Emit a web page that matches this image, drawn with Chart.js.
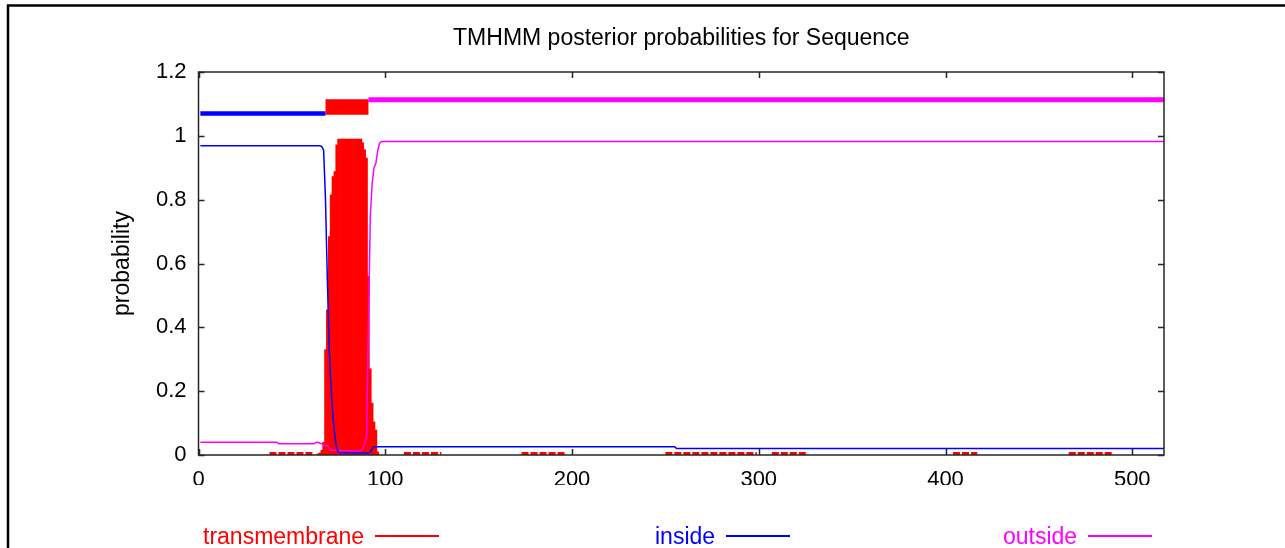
<!DOCTYPE html>
<html><head><meta charset="utf-8">
<script src="https://cdn.jsdelivr.net/npm/chart.js@4.4.1/dist/chart.umd.min.js"></script>
<style>
html,body{margin:0;padding:0;background:#fff;}
#wrap{position:relative;width:1285px;height:548px;overflow:hidden;background:#fff;}
canvas{position:absolute;left:0;top:0;}
.leg{position:absolute;top:522px;height:28px;display:flex;align-items:center;font-family:'Liberation Sans',Arial,sans-serif;font-size:23px;white-space:nowrap;}
.leg .ln{display:inline-block;height:2px;width:64px;margin-left:11px;}
</style></head><body>
<div id="wrap"><canvas id="c" width="1285" height="548"></canvas><div id="legend"></div></div>
<script>
const chartTitle = 'TMHMM posterior probabilities for Sequence';
const yAxisTitle = 'probability';
const seqLength = 517;
const xTickValues = [0, 100, 200, 300, 400, 500];
const xTickLabels = ['0', '100', '200', '300', '400', '500'];
const yTickValues = [0, 0.2, 0.4, 0.6, 0.8, 1, 1.2];
const yTickLabels = ['0', '0.2', '0.4', '0.6', '0.8', '1', '1.2'];
const seriesNames = ['transmembrane', 'inside', 'outside'];
const seriesColors = ['#ff0000', '#0000ff', '#ff00ff'];

// transmembrane posterior probability (impulses) around the helix
const tmPositions = [64,65,66,67,68,69,70,71,72,73,74,75,76,77,78,79,80,81,82,83,84,85,86,87,88,89,90,91,92,93,94,95,96];
const tmValues = [0.004,0.006,0.015,0.04,0.33,0.455,0.684,0.815,0.872,0.888,0.972,0.99,0.99,0.99,0.99,0.99,0.99,0.99,0.99,0.99,0.99,0.99,0.99,0.99,0.978,0.956,0.93,0.56,0.27,0.163,0.104,0.078,0.01];
// stretches where the transmembrane probability is barely above zero
const tmLowStarts = [38, 110, 173, 250, 307, 404, 466];
const tmLowEnds = [61, 130, 196, 299, 326, 417, 489];
const tmLowValue = 0.005;

// inside posterior probability
const insidePositions = [1, 65, 66, 67, 68, 69, 70, 71, 72, 73, 74, 75, 91, 92, 93, 94, 255, 256, 517];
const insideValues = [0.969, 0.969, 0.966, 0.955, 0.8, 0.55, 0.33, 0.21, 0.12, 0.06, 0.02, 0.008, 0.006, 0.01, 0.02, 0.026, 0.026, 0.02, 0.02];

// outside posterior probability
const outsidePositions = [1, 42, 43, 62, 63, 64, 65, 66, 67, 69, 70, 71, 74, 75, 87, 88, 89, 90, 91, 92, 93, 94, 95, 96, 97, 98, 517];
const outsideValues = [0.04, 0.04, 0.035, 0.035, 0.04, 0.04, 0.037, 0.035, 0.03, 0.03, 0.021, 0.015, 0.015, 0.013, 0.013, 0.02, 0.035, 0.06, 0.4, 0.75, 0.85, 0.9, 0.915, 0.955, 0.978, 0.982, 0.982];

// predicted topology bars at the top
const topoInsideRange = [1, 68];
const topoInsideLevel = 1.07;
const topoTMRange = [68, 91];
const topoTMLevel = 1.09;
const topoOutsideRange = [91, 517];
const topoOutsideLevel = 1.113;

const FONT = "'Liberation Sans', Arial, sans-serif";

const lowData = [];
tmLowStarts.forEach((s, i) => {
  lowData.push({x: s, y: tmLowValue});
  lowData.push({x: tmLowEnds[i], y: tmLowValue});
  lowData.push({x: tmLowEnds[i] + 0.5, y: null});
});

const framePlugin = {
  id: 'frame',
  afterDatasetsDraw(chart) {
    const {ctx, chartArea: a, scales: {x, y}} = chart;
    ctx.save();
    ctx.strokeStyle = '#262626';
    ctx.lineWidth = 1.5;
    ctx.strokeRect(a.left, a.top, a.right - a.left, a.bottom - a.top);
    const tl = 6;
    ctx.beginPath();
    xTickValues.forEach(v => {
      const px = Math.round(x.getPixelForValue(v)) + 0.5;
      ctx.moveTo(px, a.bottom); ctx.lineTo(px, a.bottom - tl);
      ctx.moveTo(px, a.top); ctx.lineTo(px, a.top + tl);
    });
    yTickValues.forEach(v => {
      const py = Math.round(y.getPixelForValue(v)) + 0.5;
      ctx.moveTo(a.left, py); ctx.lineTo(a.left + tl, py);
      ctx.moveTo(a.right, py); ctx.lineTo(a.right - tl, py);
    });
    ctx.stroke();
    ctx.strokeStyle = '#000';
    ctx.lineWidth = 2.5;
    ctx.beginPath();
    ctx.moveTo(8, 548); ctx.lineTo(8, 5.5); ctx.lineTo(1285, 5.5);
    ctx.stroke();
    ctx.restore();
  }
};

function lineDs(xs, ys, color, width, extra) {
  return Object.assign({
    type: 'line',
    data: xs.map((p, i) => ({x: p, y: ys[i]})),
    borderColor: color,
    backgroundColor: color,
    borderWidth: width,
    pointRadius: 0,
    tension: 0,
    fill: false,
    order: 1
  }, extra || {});
}

new Chart(document.getElementById('c'), {
  type: 'bar',
  data: {
    datasets: [
      lineDs(topoInsideRange, [topoInsideLevel, topoInsideLevel], seriesColors[1], 4.5, {borderCapStyle: 'butt'}),
      lineDs(topoTMRange, [topoTMLevel, topoTMLevel], seriesColors[0], 15.5, {borderCapStyle: 'butt'}),
      lineDs(topoOutsideRange, [topoOutsideLevel, topoOutsideLevel], seriesColors[2], 5, {borderCapStyle: 'butt'}),
      lineDs(insidePositions, insideValues, seriesColors[1], 1.5),
      lineDs(outsidePositions, outsideValues, seriesColors[2], 1.5),
      {
        type: 'line',
        data: lowData,
        borderColor: seriesColors[0],
        borderWidth: 3,
        borderDash: [7, 2],
        borderCapStyle: 'butt',
        pointRadius: 0,
        spanGaps: false,
        fill: false,
        order: 3
      },
      {
        type: 'bar',
        data: tmPositions.map((p, i) => ({x: p, y: tmValues[i]})),
        backgroundColor: seriesColors[0],
        borderWidth: 0,
        barPercentage: 1,
        categoryPercentage: 1,
        grouped: false,
        order: 5
      }
    ]
  },
  options: {
    responsive: false,
    animation: false,
    devicePixelRatio: 1,
    layout: {padding: {left: 98, right: 121, top: 0, bottom: 63}},
    plugins: {
      legend: {display: false},
      tooltip: {enabled: false},
      title: {
        display: true,
        text: chartTitle,
        fullSize: false,
        color: '#000',
        font: {family: FONT, size: 23, weight: 'normal'},
        padding: {top: 25, bottom: 19.4}
      }
    },
    scales: {
      x: {
        type: 'linear',
        min: 0,
        max: seqLength,
        offset: false,
        grid: {display: false, drawTicks: false},
        border: {display: false},
        afterBuildTicks: s => { s.ticks = xTickValues.map(v => ({value: v})); },
        afterFit: s => { s.height = 30; },
        ticks: {
          color: '#000',
          padding: 12,
          maxRotation: 0,
          autoSkip: false,
          font: {family: FONT, size: 22},
          callback: (v) => xTickLabels[xTickValues.indexOf(v)]
        }
      },
      y: {
        min: 0,
        max: 1.2,
        grid: {display: false, drawTicks: false},
        border: {display: false},
        afterBuildTicks: s => { s.ticks = yTickValues.map(v => ({value: v})); },
        afterFit: s => { s.width = 100.5; },
        title: {
          display: true,
          text: yAxisTitle,
          color: '#000',
          font: {family: FONT, size: 23},
          padding: {top: 11, bottom: 0}
        },
        ticks: {
          color: '#000',
          padding: 12,
          autoSkip: false,
          font: {family: FONT, size: 22},
          callback: (v) => yTickLabels[yTickValues.findIndex(t => Math.abs(t - v) < 1e-9)]
        }
      }
    }
  },
  plugins: [framePlugin]
});

const legendLefts = [203, 655, 1003];
const leg = document.getElementById('legend');
seriesNames.forEach((n, i) => {
  const d = document.createElement('div');
  d.className = 'leg';
  d.style.left = legendLefts[i] + 'px';
  d.style.color = seriesColors[i];
  const t = document.createElement('span');
  t.textContent = n;
  const l = document.createElement('span');
  l.className = 'ln';
  l.style.background = seriesColors[i];
  d.appendChild(t); d.appendChild(l);
  leg.appendChild(d);
});
</script>
</body></html>
